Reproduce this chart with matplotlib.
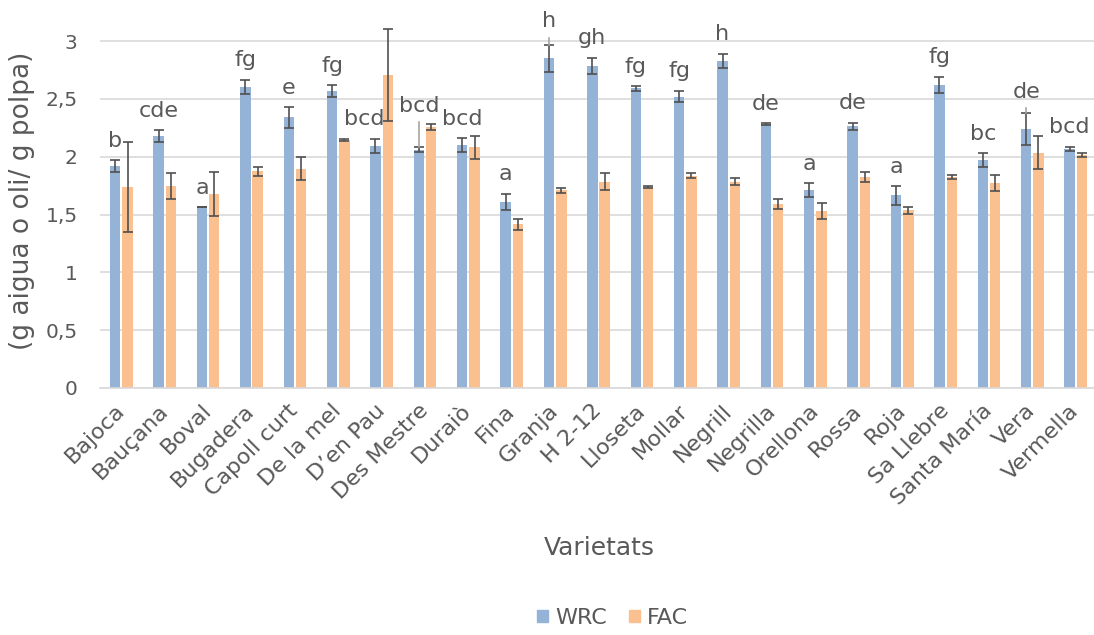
import numpy as np
import matplotlib
matplotlib.use('Agg')
import matplotlib.pyplot as plt
from matplotlib.patches import Patch

# data
varietats = ['Bajoca', 'Bauçana', 'Boval', 'Bugadera', 'Capoll curt', 'De la mel',
             "D’en Pau", 'Des Mestre', 'Duraiò', 'Fina', 'Granja', 'H 2-12',
             'Lloseta', 'Mollar', 'Negrill', 'Negrilla', 'Orellona', 'Rossa',
             'Roja', 'Sa Llebre', 'Santa María', 'Vera', 'Vermella']
wrc = [1.92, 2.18, 1.565, 2.605, 2.34, 2.57, 2.095, 2.06, 2.10, 1.61, 2.85, 2.785,
       2.59, 2.52, 2.83, 2.28, 1.71, 2.265, 1.665, 2.62, 1.97, 2.24, 2.065]
wrc_err = [0.05, 0.05, 0.0, 0.06, 0.09, 0.05, 0.06, 0.02, 0.058, 0.07, 0.12, 0.07,
           0.02, 0.05, 0.06, 0.01, 0.06, 0.03, 0.08, 0.07, 0.06, 0.14, 0.02]
fac = [1.74, 1.745, 1.68, 1.875, 1.895, 2.145, 2.705, 2.26, 2.08, 1.415, 1.71, 1.785,
       1.74, 1.835, 1.785, 1.59, 1.53, 1.825, 1.535, 1.825, 1.77, 2.035, 2.015]
fac_err = [0.39, 0.11, 0.19, 0.04, 0.10, 0.01, 0.40, 0.025, 0.10, 0.05, 0.02, 0.07,
           0.01, 0.02, 0.03, 0.04, 0.07, 0.04, 0.03, 0.015, 0.07, 0.14, 0.02]
letters = ['b', 'cde', 'a', 'fg', 'e', 'fg', 'bcd', 'bcd', 'bcd', 'a', 'h', 'gh',
           'fg', 'fg', 'h', 'de', 'a', 'de', 'a', 'fg', 'bc', 'de', 'bcd']
# labels that were dragged away from their bar, with a leader line (label y)
moved_labels = {7: 2.44, 10: 3.17, 21: 2.56}

blue = '#95B3D7'
orange = '#FAC090'
txt = '#595959'
errc = '#505050'

plt.rcParams['font.family'] = ['DejaVu Sans']

fig = plt.figure(figsize=(10.94, 6.35), dpi=100)
ax = fig.add_axes([0.0911, 0.389, 0.912, 0.601])

x = np.arange(len(varietats))
w = 0.24
off = 0.142
ekw = dict(ecolor=errc, elinewidth=1.2, capsize=3.6, capthick=1.2)
ax.bar(x - off, wrc, w, color=blue, yerr=wrc_err, error_kw=ekw, zorder=2, label='WRC')
ax.bar(x + off, fac, w, color=orange, yerr=fac_err, error_kw=ekw, zorder=2, label='FAC')

for i, lab in enumerate(letters):
    top = wrc[i] + wrc_err[i]
    if i in moved_labels:
        ly = moved_labels[i]
        ax.plot([x[i] - off, x[i] - off], [ly - 0.14, top], color='#A6A6A6', lw=1.2, zorder=3)
        ax.text(x[i] - off, ly, lab, ha='center', va='center', fontsize=16, color=txt)
    else:
        dx = -8 if i == 6 else 0
        ax.annotate(lab, (x[i] - off, top), xytext=(dx, 14), textcoords='offset points',
                    ha='center', va='center', fontsize=16, color=txt)

ax.set_xlim(-0.5, len(varietats) - 0.5)
ax.set_ylim(0, 3.3)
yt = np.arange(0, 3.01, 0.5)
ax.set_yticks(yt)
ax.set_yticklabels([('%g' % v).replace('.', ',') for v in yt], fontsize=14.5, color=txt)
ax.grid(axis='y', color='#D9D9D9', lw=1.2, zorder=0)
ax.set_axisbelow(True)
for s in ['top', 'right', 'left']:
    ax.spines[s].set_visible(False)
ax.spines['bottom'].set_color('#D9D9D9')
ax.spines['bottom'].set_linewidth(1.2)
ax.tick_params(axis='both', length=0)
ax.tick_params(axis='y', pad=16)

ax.set_xticks(x)
ax.set_xticklabels(varietats, rotation=45, ha='right', va='center', rotation_mode='anchor',
                   fontsize=16, color=txt)
ax.tick_params(axis='x', pad=14)

ax.set_ylabel('(g aigua o oli/ g polpa)', fontsize=19, color=txt)
ax.yaxis.set_label_coords(-0.065, 0.49)
fig.text(0.5475, 0.137, 'Varietats', ha='center', va='center', fontsize=18, color=txt)

handles = [Patch(color=blue, label='WRC'), Patch(color=orange, label='FAC')]
fig.legend(handles=handles, loc='center', bbox_to_anchor=(0.56, 0.027), ncol=2,
           frameon=False, fontsize=16, labelcolor=txt, handlelength=0.5, handleheight=0.5,
           handletextpad=0.3, columnspacing=1.0)

fig.savefig('out.png', dpi=100)
